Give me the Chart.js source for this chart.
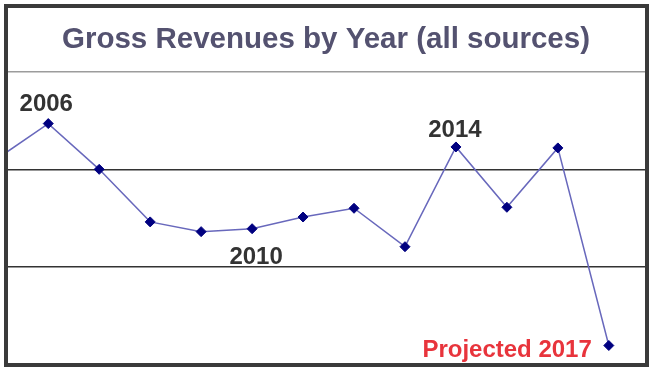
<!DOCTYPE html>
<html lang="en">
<head>
<meta charset="UTF-8">
<title>Gross Revenues by Year</title>
<script src="https://cdn.jsdelivr.net/npm/chart.js"></script>
<style>
html, body { margin: 0; padding: 0; background: #fff; }
#wrap { width: 652px; height: 372px; }
</style>
</head>
<body>
<div id="wrap"><canvas id="revChart" width="652" height="372"></canvas></div>

<script>
// years (2005 sits just off the left edge, only its segment shows)
const years = [2005, 2006, 2007, 2008, 2009, 2010, 2011, 2012, 2013, 2014, 2015, 2016, 2017];
// gross revenue (unlabelled axis, arbitrary units)
const revenues = [21.1, 24.7, 20.0, 14.6, 13.6, 13.9, 15.1, 16.0, 12.05, 22.3, 16.1, 22.2, 1.9];
// gridline values
const gridTicks = [0, 10, 20, 30];
// annotated years
const noteYears = [2006, 2010, 2014, 2017];
const noteTexts = ['2006', '2010', '2014', 'Projected 2017'];
const titleText = 'Gross Revenues by Year (all sources)';

const FONT = '"Liberation Sans", Arial, sans-serif';

// where each note goes relative to its point
const noteStyle = {
  2006: { dx: -2, dy: -13, align: 'center', color: '#333333' },
  2010: { dx: 4, dy: 35, align: 'center', color: '#333333' },
  2014: { dx: -1, dy: -10, align: 'center', color: '#333333' },
  2017: { dx: -17, dy: 11, align: 'right', color: '#e8343c' }
};

const decor = {
  id: 'decor',
  afterDraw(chart) {
    const ctx = chart.ctx;
    const xs = chart.scales.x, ys = chart.scales.y;
    ctx.save();

    // title
    ctx.fillStyle = '#545270';
    ctx.font = 'bold 29.5px ' + FONT;
    ctx.textAlign = 'center';
    ctx.textBaseline = 'alphabetic';
    ctx.fillText(titleText, 326, 48);

    // notes next to the points
    ctx.font = 'bold 24px ' + FONT;
    noteYears.forEach((yr, i) => {
      const s = noteStyle[yr];
      const v = revenues[years.indexOf(yr)];
      ctx.fillStyle = s.color;
      ctx.textAlign = s.align;
      ctx.fillText(noteTexts[i], xs.getPixelForValue(yr) + s.dx, ys.getPixelForValue(v) + s.dy);
    });

    // frame
    ctx.strokeStyle = '#3a3a3a';
    ctx.lineWidth = 4;
    ctx.strokeRect(6, 6, 641, 359);
    ctx.restore();
  }
};

new Chart(document.getElementById('revChart'), {
  type: 'line',
  data: {
    datasets: [{
      data: years.map((y, i) => ({ x: y, y: revenues[i] })),
      borderColor: '#6868bc',
      borderWidth: 1.5,
      backgroundColor: '#000080',
      pointBackgroundColor: '#000080',
      pointBorderColor: '#000080',
      pointBorderWidth: 1,
      pointStyle: 'rectRot',
      pointRadius: years.map(y => (y < 2006 ? 0 : 5)),
      tension: 0
    }]
  },
  options: {
    responsive: false,
    animation: false,
    events: [],
    layout: { padding: { left: 8, right: 7, top: 72, bottom: 8 } },
    plugins: { legend: { display: false }, tooltip: { enabled: false } },
    scales: {
      x: {
        type: 'linear',
        display: false,
        min: 2005.21,
        max: 2017.71
      },
      y: {
        min: gridTicks[0],
        max: gridTicks[gridTicks.length - 1],
        afterBuildTicks: axis => { axis.ticks = gridTicks.map(v => ({ value: v })); },
        ticks: { display: false },
        border: { display: false },
        grid: {
          drawTicks: false,
          lineWidth: 1.5,
          color: c => (c.tick && c.tick.value === 30 ? '#9c9c9c' : '#333333')
        }
      }
    }
  },
  plugins: [decor]
});
</script>
</body>
</html>
